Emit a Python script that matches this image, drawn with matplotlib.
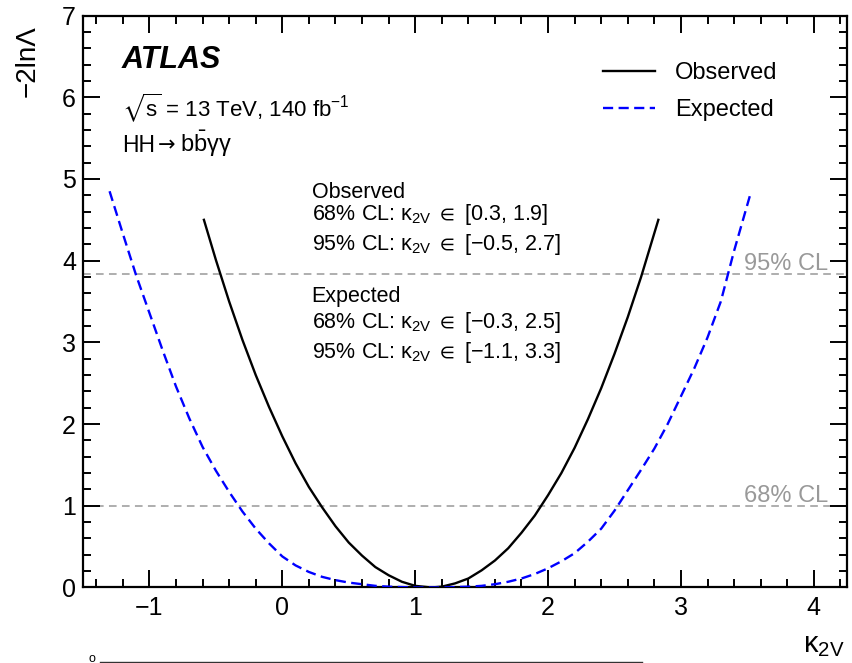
import matplotlib
matplotlib.use("Agg")
import matplotlib.pyplot as plt
from matplotlib.ticker import MultipleLocator
from matplotlib.lines import Line2D

plt.rcParams['font.family'] = ['Liberation Sans', 'DejaVu Sans']
plt.rcParams['mathtext.fontset'] = 'custom'
plt.rcParams['mathtext.rm'] = 'Liberation Sans'
plt.rcParams['mathtext.it'] = 'Liberation Sans:italic'
plt.rcParams['mathtext.bf'] = 'Liberation Sans:bold'
plt.rcParams['mathtext.fallback'] = 'stixsans'

# observed scan
obs_k2v = [-0.59, -0.5, -0.4, -0.3, -0.2, -0.1, 0.0, 0.1, 0.2, 0.3, 0.4, 0.5, 0.6, 0.7, 0.8, 0.9, 1.0, 1.12,
           1.2, 1.3, 1.4, 1.5, 1.6, 1.7, 1.8, 1.9, 2.0, 2.1, 2.2, 2.3, 2.4, 2.5, 2.6, 2.7, 2.83]
obs_nll = [4.50, 4.01, 3.50, 3.03, 2.60, 2.21, 1.85, 1.52, 1.23, 0.98, 0.75, 0.55, 0.39, 0.25, 0.15, 0.07, 0.02, 0.0,
           0.01, 0.05, 0.11, 0.21, 0.33, 0.48, 0.67, 0.88, 1.13, 1.40, 1.71, 2.06, 2.44, 2.86, 3.31, 3.80, 4.50]

# expected scan
exp_k2v = [-1.30, -1.2, -1.1, -1.0, -0.9, -0.8, -0.7, -0.6, -0.5, -0.4, -0.3, -0.2, -0.1, 0.0, 0.1, 0.2, 0.3,
           0.4, 0.5, 0.6, 0.7, 0.8, 0.9, 1.0, 1.1, 1.2, 1.3, 1.4, 1.5, 1.6, 1.7, 1.8, 1.9, 2.0, 2.1, 2.2, 2.3,
           2.4, 2.5, 2.6, 2.7, 2.8, 2.9, 3.0, 3.1, 3.2, 3.3, 3.4, 3.52]
exp_nll = [4.85, 4.33, 3.82, 3.36, 2.90, 2.46, 2.07, 1.72, 1.43, 1.17, 0.93, 0.72, 0.54, 0.38, 0.27, 0.19, 0.13,
           0.09, 0.06, 0.04, 0.02, 0.01, 0.005, 0.0, 0.0, 0.0, 0.005, 0.01, 0.02, 0.04, 0.07, 0.11, 0.165, 0.235,
           0.32, 0.42, 0.56, 0.72, 0.94, 1.19, 1.44, 1.70, 2.00, 2.34, 2.68, 3.06, 3.50, 4.12, 4.80]

cl_levels = [1.0, 3.84]
cl_names = ['68% CL', '95% CL']

obs_text = ['Observed', '68% CL: κ$_{\\mathrm{2V}}$ $\\in$ [0.3, 1.9]', '95% CL: κ$_{\\mathrm{2V}}$ $\\in$ [−0.5, 2.7]']
exp_text = ['Expected', '68% CL: κ$_{\\mathrm{2V}}$ $\\in$ [−0.3, 2.5]', '95% CL: κ$_{\\mathrm{2V}}$ $\\in$ [−1.1, 3.3]']

fig = plt.figure(figsize=(8.53, 6.63), dpi=100)
ax = fig.add_axes([0.0973, 0.1139, 0.8957, 0.8626])

for lvl, name in zip(cl_levels, cl_names):
    ax.axhline(lvl, color='#999999', lw=1.1, ls=(0, (5, 3.5)), zorder=1)
    ax.text(4.105, lvl + 0.05, name, color='#999999', fontsize=17, ha='right', va='baseline')

ax.plot(obs_k2v, obs_nll, color='black', lw=1.7, label='Observed', zorder=3)
ax.plot(exp_k2v, exp_nll, color='#0000ff', lw=1.7, ls=(0, (4.3, 2.3)), label='Expected', zorder=3)

ax.set_xlim(-1.5, 4.25)
ax.set_ylim(0, 7)
ax.xaxis.set_major_locator(MultipleLocator(1))
ax.xaxis.set_minor_locator(MultipleLocator(0.2))
ax.yaxis.set_major_locator(MultipleLocator(1))
ax.yaxis.set_minor_locator(MultipleLocator(0.2))
ax.tick_params(which='both', direction='in', top=True, right=True, width=1.4, labelsize=18)
ax.tick_params(which='major', length=12.5)
ax.tick_params(which='minor', length=6)
ax.tick_params(axis='x', pad=6)
ax.tick_params(axis='y', pad=5)
ax.xaxis.set_major_formatter(plt.FuncFormatter(lambda v, p: f'{v:g}'.replace('-', '−')))
for s in ax.spines.values():
    s.set_linewidth(1.6)

leg = ax.legend(loc='upper left', bbox_to_anchor=(0.6806, 0.918), frameon=False, fontsize=17,
                handlelength=2.2, handletextpad=0.85, labelspacing=0.62, borderpad=0, borderaxespad=0)

ax.text(0.0506, 0.9078, 'ATLAS', transform=ax.transAxes, fontsize=22, fontweight='bold',
        fontstyle='italic', va='baseline')
ax.text(0.0506, 0.8232, '$\\sqrt{\\mathrm{s}}$ = 13 TeV, 140 fb$^{-1}$', transform=ax.transAxes,
        fontsize=16, va='baseline')
ax.text(0.0506, 0.762, 'HH', transform=ax.transAxes, fontsize=16.5, va='baseline')
ax.text(0.0985, 0.762, '→', transform=ax.transAxes, fontsize=15, va='baseline', family='DejaVu Sans')
ax.text(0.1270, 0.762, 'b$\\bar{\\mathrm{b}}$γγ', transform=ax.transAxes, fontsize=17, va='baseline')

for txt, yb in zip(obs_text + exp_text, [0.6805, 0.6426, 0.5902, 0.4997, 0.4532, 0.4008]):
    ax.text(0.2993, yb, txt, transform=ax.transAxes, fontsize=15.5, va='baseline')

fig.text(28 / 853, 1 - 25 / 663, '−2lnΛ', rotation=90, fontsize=20, ha='center', va='top')
fig.text(845 / 853, 1 - 652 / 663, 'κ$_{\\mathrm{2V}}$', fontsize=21, ha='right', va='baseline')

# clipped caption remnant at the bottom edge
fig.add_artist(Line2D([100 / 853, 642 / 853], [1.5 / 663, 1.5 / 663], color='#333333', lw=1.0))
fig.text(92 / 853, 1.5 / 663, 'o', fontsize=9, ha='center', va='baseline')

fig.savefig('out.png', dpi=100)
